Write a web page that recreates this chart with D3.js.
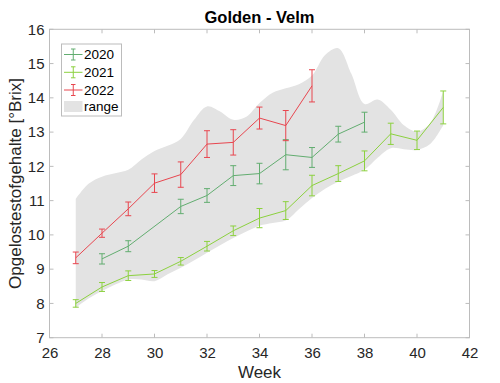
<!DOCTYPE html>
<html>
<head>
<meta charset="utf-8">
<script src="https://cdn.jsdelivr.net/npm/d3@7"></script>
<style>
  html, body { margin: 0; padding: 0; background: #fff; }
  svg { display: block; font-family: "Liberation Sans", Arial, sans-serif; }
</style>
</head>
<body>
<svg id="chart" width="500" height="383"></svg>
<script>
// ---------- data ----------
const title = "Golden - Velm";
const xLabel = "Week";
const yLabel = "Opgelostestofgehalte [°Brix]";
const xTicks = [26, 28, 30, 32, 34, 36, 38, 40, 42];
const yTicks = [7, 8, 9, 10, 11, 12, 13, 14, 15, 16];

const weeks2020 = [28, 29, 31, 32, 33, 34, 35, 36, 37, 38];
const mean2020  = [9.30, 9.67, 10.83, 11.15, 11.73, 11.79, 12.34, 12.26, 12.94, 13.29];
const err2020   = [0.15, 0.16, 0.21, 0.20, 0.29, 0.30, 0.44, 0.29, 0.23, 0.29];

const weeks2021 = [27, 28, 29, 30, 31, 32, 33, 34, 35, 36, 37, 38, 39, 40, 41];
const mean2021  = [8.00, 8.48, 8.81, 8.86, 9.23, 9.67, 10.12, 10.49, 10.71, 11.44, 11.79, 12.16, 12.95, 12.76, 13.72];
const err2021   = [0.11, 0.13, 0.14, 0.10, 0.11, 0.14, 0.14, 0.28, 0.26, 0.30, 0.23, 0.29, 0.31, 0.27, 0.48];

const weeks2022 = [27, 28, 29, 30, 31, 32, 33, 34, 35, 36];
const mean2022  = [9.33, 10.05, 10.76, 11.51, 11.76, 12.65, 12.70, 13.41, 13.19, 14.35];
const err2022   = [0.17, 0.12, 0.20, 0.27, 0.37, 0.39, 0.37, 0.32, 0.44, 0.47];

const rangeWeeks = [27, 27.5, 28, 28.5, 29, 29.5, 30, 30.5, 31, 31.5, 32, 32.5, 33, 33.5, 34, 34.5, 35, 35.5, 36, 36.5, 37, 37.5, 38, 38.5, 39, 39.5, 40, 40.5, 41];
const rangeHigh  = [11.05, 11.5, 11.7, 11.8, 11.9, 12.2, 12.45, 12.6, 12.8, 13.35, 13.75, 13.6, 13.36, 13.45, 13.85, 14.15, 14.28, 14.4, 14.65, 15.25, 15.45, 14.7, 13.82, 13.95, 13.65, 13.2, 13.02, 13.26, 14.2];
const rangeLow   = [7.87, 8.15, 8.36, 8.55, 8.70, 8.70, 8.65, 8.85, 9.04, 9.25, 9.48, 9.70, 9.91, 10.1, 10.27, 10.35, 10.42, 10.75, 11.08, 11.35, 11.55, 11.72, 11.9, 12.25, 12.53, 12.5, 12.48, 12.65, 13.2];

const seriesNames = ["2020", "2021", "2022"];
const seriesColors = ["#62ad70", "#8cd13f", "#e8464f"];
const rangeName = "range";
const rangeColor = "#e3e3e3";

// ---------- layout ----------
const svg = d3.select("#chart");
const m = { left: 49.5, right: 469.5, top: 29.3, bottom: 337.7 };
const x = d3.scaleLinear().domain([26, 42]).range([m.left, m.right]);
const y = d3.scaleLinear().domain([7, 16]).range([m.bottom, m.top]);
const axisColor = "#bcbcbc";
const textColor = "#262626";

// range area
const rangeData = rangeWeeks.map((w, i) => ({ w, lo: rangeLow[i], hi: rangeHigh[i] }));
svg.append("path")
  .datum(rangeData)
  .attr("fill", rangeColor)
  .attr("d", d3.area().x(d => x(d.w)).y0(d => y(d.lo)).y1(d => y(d.hi)).curve(d3.curveCatmullRom.alpha(0.5)));

// axes box
const gx = svg.append("g").attr("transform", `translate(0,${m.bottom})`)
  .call(d3.axisBottom(x).tickValues(xTicks).tickSize(0).tickPadding(10).tickFormat(d3.format("d")));
const gy = svg.append("g").attr("transform", `translate(${m.left},0)`)
  .call(d3.axisLeft(y).tickValues(yTicks).tickSize(0).tickPadding(5).tickFormat(d3.format("d")));
[gx, gy].forEach(g => {
  g.select(".domain").remove();
  g.selectAll("text").attr("fill", textColor).style("font-size", "15px").style("font-family", "'Liberation Sans', Arial, sans-serif");
});
gx.selectAll("text").attr("dy", "0.71em");

// inward ticks on all four sides
const tl = 4;
const tickG = svg.append("g").attr("stroke", axisColor).attr("stroke-width", 1);
xTicks.forEach(t => {
  tickG.append("line").attr("x1", x(t)).attr("x2", x(t)).attr("y1", m.bottom).attr("y2", m.bottom - tl);
  tickG.append("line").attr("x1", x(t)).attr("x2", x(t)).attr("y1", m.top).attr("y2", m.top + tl);
});
yTicks.forEach(t => {
  tickG.append("line").attr("x1", m.left).attr("x2", m.left + tl).attr("y1", y(t)).attr("y2", y(t));
  tickG.append("line").attr("x1", m.right).attr("x2", m.right - tl).attr("y1", y(t)).attr("y2", y(t));
});
svg.append("rect").attr("x", m.left).attr("y", m.top)
  .attr("width", m.right - m.left).attr("height", m.bottom - m.top)
  .attr("fill", "none").attr("stroke", axisColor).attr("stroke-width", 1);

// series
const series = [
  { weeks: weeks2020, mean: mean2020, err: err2020 },
  { weeks: weeks2021, mean: mean2021, err: err2021 },
  { weeks: weeks2022, mean: mean2022, err: err2022 }
];
const line = d3.line().x(d => x(d.w)).y(d => y(d.v));
const cap = 3;
series.forEach((s, k) => {
  const pts = s.weeks.map((w, i) => ({ w, v: s.mean[i], e: s.err[i] }));
  const g = svg.append("g").attr("stroke", seriesColors[k]).attr("fill", "none").attr("stroke-width", 1);
  g.append("path").datum(pts).attr("d", line);
  pts.forEach(p => {
    const cx = x(p.w), y1 = y(p.v + p.e), y2 = y(p.v - p.e);
    g.append("line").attr("x1", cx).attr("x2", cx).attr("y1", y1).attr("y2", y2);
    g.append("line").attr("x1", cx - cap).attr("x2", cx + cap).attr("y1", y1).attr("y2", y1);
    g.append("line").attr("x1", cx - cap).attr("x2", cx + cap).attr("y1", y2).attr("y2", y2);
  });
});

// legend
const lg = svg.append("g");
lg.append("rect").attr("x", 61.5).attr("y", 44).attr("width", 60).attr("height", 72)
  .attr("fill", "#fff").attr("stroke", axisColor).attr("stroke-width", 1);
const rowY = [54.5, 72.3, 90, 106.5];
seriesNames.forEach((name, k) => {
  const gy2 = rowY[k];
  const c = seriesColors[k];
  lg.append("line").attr("x1", 64).attr("x2", 82.5).attr("y1", gy2).attr("y2", gy2).attr("stroke", c);
  lg.append("line").attr("x1", 73.25).attr("x2", 73.25).attr("y1", gy2 - 5.5).attr("y2", gy2 + 5.5).attr("stroke", c);
  lg.append("line").attr("x1", 71).attr("x2", 75.5).attr("y1", gy2 - 5.5).attr("y2", gy2 - 5.5).attr("stroke", c);
  lg.append("line").attr("x1", 71).attr("x2", 75.5).attr("y1", gy2 + 5.5).attr("y2", gy2 + 5.5).attr("stroke", c);
  lg.append("text").attr("x", 84).attr("y", gy2).attr("dy", "0.36em")
    .attr("fill", "#000").style("font-size", "13.5px").text(name);
});
lg.append("rect").attr("x", 64).attr("y", 101).attr("width", 18.5).attr("height", 11).attr("fill", rangeColor);
lg.append("text").attr("x", 84).attr("y", rowY[3]).attr("dy", "0.36em")
  .attr("fill", "#000").style("font-size", "13.5px").text(rangeName);

// title & labels
svg.append("text").attr("x", (m.left + m.right) / 2).attr("y", 23)
  .attr("text-anchor", "middle").attr("font-weight", "bold").style("font-size", "16.5px")
  .attr("fill", "#000").text(title);
svg.append("text").attr("x", (m.left + m.right) / 2).attr("y", 378)
  .attr("text-anchor", "middle").style("font-size", "17px").attr("fill", textColor).text(xLabel);
svg.append("text").attr("transform", `translate(21,${(m.top + m.bottom) / 2}) rotate(-90)`)
  .attr("text-anchor", "middle").style("font-size", "17px").attr("fill", textColor).text(yLabel);
</script>
</body>
</html>
